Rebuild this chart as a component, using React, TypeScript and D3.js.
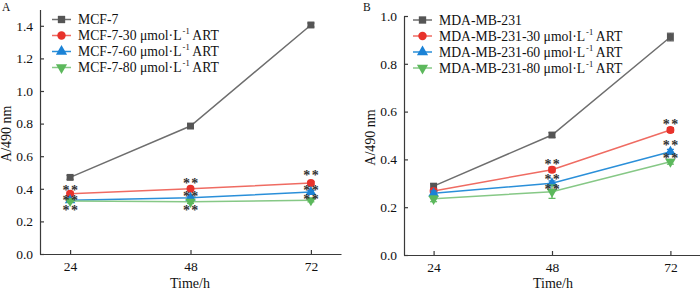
import React, { useEffect, useRef } from "react";
import * as d3 from "d3";

const times = [24, 48, 72];

// Panel A (MCF-7)
const namesA = ["MCF-7", "MCF-7-30 μmol·L", "MCF-7-60 μmol·L", "MCF-7-80 μmol·L"];
const valuesA = [
  [0.47, 0.785, 1.405],
  [0.37, 0.4, 0.435],
  [0.33, 0.345, 0.38],
  [0.325, 0.32, 0.33],
];
const errorsA = [
  [0.012, 0.012, 0.012],
  [0.01, 0.01, 0.01],
  [0.008, 0.01, 0.01],
  [0.008, 0.01, 0.01],
];
const starsA = [
  [0.407, 0.345, 0.284],
  [0.448, 0.372, 0.284],
  [0.497, 0.407, 0.352],
];

// Panel B (MDA-MB-231)
const namesB = ["MDA-MB-231", "MDA-MB-231-30 μmol·L", "MDA-MB-231-60 μmol·L", "MDA-MB-231-80 μmol·L"];
const valuesB = [
  [0.288, 0.502, 0.912],
  [0.268, 0.357, 0.523],
  [0.258, 0.3, 0.432],
  [0.235, 0.265, 0.39],
];
const errorsB = [
  [0.01, 0.01, 0.016],
  [0.01, 0.01, 0.01],
  [0.01, 0.01, 0.01],
  [0.012, 0.028, 0.01],
];
const starsB = [
  [],
  [0.39, 0.328, 0.286],
  [0.558, 0.47, 0.418],
];

const yTicksA = [0, 0.2, 0.4, 0.6, 0.8, 1.0, 1.2, 1.4];
const yTicksB = [0, 0.2, 0.4, 0.6, 0.8, 1.0];

const markerColors = ["#555555", "#e8322b", "#1b82d6", "#5cb85c"];
const lineColors = ["#6e6e6e", "#ef6b62", "#2a8fd9", "#86c886"];
const symbols = [d3.symbolSquare, d3.symbolCircle, d3.symbolTriangle, d3.symbolTriangle];
const rotations = [0, 0, 0, 180];
const symbolSizes = [48, 50, 48, 48];

const FONT = "'Liberation Serif', 'Times New Roman', serif";

function drawPanel(
  svg: d3.Selection<SVGSVGElement, unknown, null, undefined>,
  cfg: {
    label: string;
    labelX: number;
    labelY: number;
    xRange: [number, number];
    yRange: [number, number];
    yMax: number;
    yTicks: number[];
    names: string[];
    values: number[][];
    errors: number[][];
    stars: number[][];
    legendX: number;
    legendY: number;
    titleX: number;
  }
) {
  const g = svg.append("g").attr("font-family", FONT);
  const x = d3.scaleLinear().domain([18, 78]).range(cfg.xRange);
  const y = d3.scaleLinear().domain([0, cfg.yMax]).range(cfg.yRange);

  const yAxis = d3
    .axisLeft(y)
    .tickValues(cfg.yTicks)
    .tickFormat(d3.format(".1f"))
    .tickSize(-4)
    .tickSizeOuter(0)
    .tickPadding(7);
  const ya = g.append("g").attr("transform", `translate(${cfg.xRange[0]},0)`).call(yAxis);
  const xAxis = d3.axisBottom(x).tickValues(times).tickSize(-4).tickSizeOuter(0).tickPadding(7);
  const xa = g.append("g").attr("transform", `translate(0,${cfg.yRange[0]})`).call(xAxis);
  [ya, xa].forEach((a) => {
    a.attr("font-family", FONT).attr("font-size", 13.5);
    a.selectAll("path,line").attr("stroke", "#3a3a3a").attr("stroke-width", 1.2);
    a.selectAll("text").attr("fill", "#111");
  });

  g.append("text")
    .attr("x", cfg.titleX)
    .attr("y", 288)
    .attr("text-anchor", "middle")
    .attr("font-size", 14)
    .attr("fill", "#111")
    .text("Time/h");

  const ymid = (cfg.yRange[0] + cfg.yRange[1]) / 2 + 2;
  g.append("text")
    .attr("transform", `translate(${cfg.xRange[0] - 29},${ymid}) rotate(-90)`)
    .attr("text-anchor", "middle")
    .attr("font-size", 14)
    .attr("fill", "#111")
    .text("A/490 nm");

  g.append("text")
    .attr("x", cfg.labelX)
    .attr("y", cfg.labelY)
    .attr("font-size", 11.5)
    .attr("fill", "#111")
    .text(cfg.label);

  const line = d3
    .line<number>()
    .x((_, i) => x(times[i]))
    .y((d) => y(d));

  cfg.values.forEach((vals, s) => {
    const sg = g.append("g");
    sg.append("path")
      .attr("d", line(vals) as string)
      .attr("fill", "none")
      .attr("stroke", lineColors[s])
      .attr("stroke-width", 1.5);
    vals.forEach((v, i) => {
      const e = cfg.errors[s][i];
      const cx = x(times[i]);
      sg.append("line")
        .attr("x1", cx).attr("x2", cx)
        .attr("y1", y(v - e)).attr("y2", y(v + e))
        .attr("stroke", markerColors[s]).attr("stroke-width", 1.2);
      [v - e, v + e].forEach((ev) =>
        sg.append("line")
          .attr("x1", cx - 3.5).attr("x2", cx + 3.5)
          .attr("y1", y(ev)).attr("y2", y(ev))
          .attr("stroke", markerColors[s]).attr("stroke-width", 1.2)
      );
      sg.append("path")
        .attr("d", d3.symbol().type(symbols[s]).size(symbolSizes[s])() as string)
        .attr("transform", `translate(${cx},${y(v)}) rotate(${rotations[s]})`)
        .attr("fill", markerColors[s]);
    });
  });

  cfg.stars.forEach((levels, i) => {
    levels.forEach((lv) => {
      g.append("text")
        .attr("x", x(times[i]) + 0.8)
        .attr("y", y(lv) + 7.5)
        .attr("text-anchor", "middle")
        .attr("font-size", 14)
        .attr("font-weight", "bold")
        .attr("fill", "#333333")
        .attr("letter-spacing", 1.4)
        .text("**");
    });
  });

  // legend
  cfg.names.forEach((name, s) => {
    const ly = cfg.legendY + s * 16;
    const lg = g.append("g");
    lg.append("line")
      .attr("x1", cfg.legendX).attr("x2", cfg.legendX + 19)
      .attr("y1", ly).attr("y2", ly)
      .attr("stroke", lineColors[s]).attr("stroke-width", 1.5);
    lg.append("path")
      .attr("d", d3.symbol().type(symbols[s]).size(symbolSizes[s] + 6)() as string)
      .attr("transform", `translate(${cfg.legendX + 9.5},${ly}) rotate(${rotations[s]})`)
      .attr("fill", markerColors[s]);
    const t = lg.append("text")
      .attr("x", cfg.legendX + 26)
      .attr("y", ly + 4.8)
      .attr("font-size", 13.7)
      .attr("fill", "#111");
    t.append("tspan").text(name);
    if (s > 0) {
      t.append("tspan").attr("font-size", 8.5).attr("dy", -6).attr("dx", 1).text("-1");
      t.append("tspan").attr("dy", 6).text(" ART");
    }
  });
}

export default function App() {
  const ref = useRef<SVGSVGElement>(null);
  useEffect(() => {
    if (!ref.current) return;
    const svg = d3.select(ref.current);
    svg.selectAll("*").remove();
    drawPanel(svg, {
      label: "A",
      labelX: 2,
      labelY: 11,
      xRange: [40, 341],
      yRange: [254, 254 - 1.5 * 163],
      yMax: 1.5,
      yTicks: yTicksA,
      names: namesA,
      values: valuesA,
      errors: errorsA,
      stars: starsA,
      legendX: 52,
      legendY: 19.5,
      titleX: 190,
    });
    drawPanel(svg, {
      label: "B",
      labelX: 363,
      labelY: 11,
      xRange: [404, 700],
      yRange: [255, 255 - 1.0 * 239],
      yMax: 1.0,
      yTicks: yTicksB,
      names: namesB,
      values: valuesB,
      errors: errorsB,
      stars: starsB,
      legendX: 413,
      legendY: 20,
      titleX: 553,
    });
  }, []);
  return (
    <svg
      ref={ref}
      width={700}
      height={290}
      style={{ position: "absolute", left: 0, top: 0, background: "#fff" }}
    />
  );
}
